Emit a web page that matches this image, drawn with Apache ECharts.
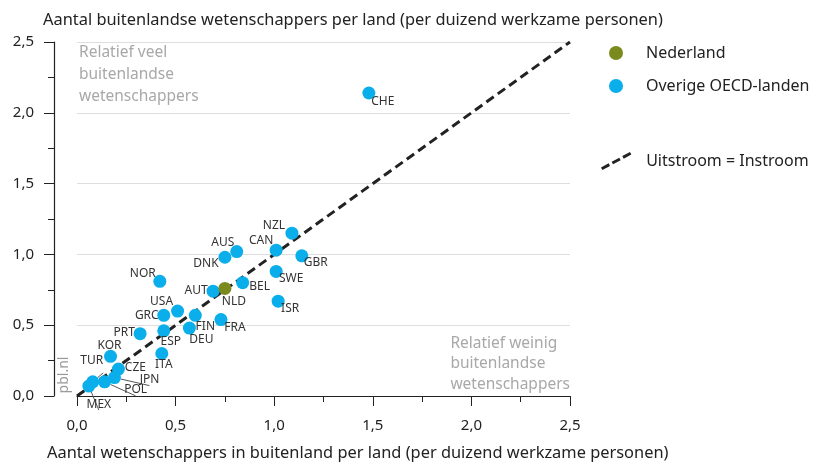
<!DOCTYPE html>
<html>
<head>
<meta charset="utf-8">
<script src="https://cdn.jsdelivr.net/npm/echarts@6/dist/echarts.min.js"></script>
<style>
  html, body { margin: 0; padding: 0; background: #fff; }
  #chart { width: 814px; height: 463px; }
</style>
</head>
<body>
<div id="chart"></div>
<script>
// data
const countries = ['CHE', 'NZL', 'CAN', 'GBR', 'AUS', 'DNK', 'SWE', 'NOR', 'BEL', 'NLD', 'AUT', 'ISR', 'USA',
  'FIN', 'GRC', 'FRA', 'DEU', 'ESP', 'PRT', 'KOR', 'ITA', 'CZE', 'JPN', 'POL', 'TUR', 'MEX'];
// x: wetenschappers in buitenland (uitstroom)
const outflow = [1.48, 1.09, 1.01, 1.14, 0.81, 0.75, 1.01, 0.42, 0.84, 0.75, 0.69, 1.02, 0.51,
  0.60, 0.44, 0.73, 0.57, 0.44, 0.32, 0.17, 0.43, 0.21, 0.19, 0.14, 0.08, 0.06];
// y: buitenlandse wetenschappers (instroom)
const inflow = [2.14, 1.15, 1.03, 0.99, 1.02, 0.98, 0.88, 0.81, 0.80, 0.76, 0.74, 0.67, 0.60,
  0.57, 0.57, 0.54, 0.48, 0.46, 0.44, 0.28, 0.30, 0.19, 0.13, 0.10, 0.10, 0.07];
const parity = [0, 2.5];
const highlight = 'NLD';

// label placement (offset from dot centre)
const labelOffset = {
  CHE: [14, 9], NZL: [-18, -8], CAN: [-15, -10], GBR: [14, 7], AUS: [-14, -9], DNK: [-19, 6],
  SWE: [15, 7], NOR: [-17, -8], BEL: [17, 4], NLD: [9, 13], AUT: [-17, -1], ISR: [12, 7],
  USA: [-16, -9], FIN: [10, 11], GRC: [-17, 0], FRA: [14, 8], DEU: [12, 12], ESP: [7, 11],
  PRT: [-16, -1], KOR: [-1, -11], ITA: [2, 11], CZE: [17, -2], JPN: [35, 2], POL: [31, 8],
  TUR: [-1, -21], MEX: [10, 18]
};
const withLeader = ['JPN', 'POL', 'TUR', 'MEX'];

const font = 'Noto Sans';
const dashIcon = 'path://M0.29,15.18L8.23,10.94L9.65,13.58L1.71,17.82Z' +
  'M11.32,9.3L19.26,5.06L20.68,7.7L12.74,11.94Z' +
  'M22.35,3.42L30.29,-0.82L31.71,1.82L23.77,6.06Z';

function points(keep) {
  let out = [];
  countries.forEach((c, i) => {
    if (!keep(c)) return;
    out.push({
      value: [outflow[i], inflow[i]],
      name: c,
      label: { offset: labelOffset[c] },
      labelLine: { show: withLeader.indexOf(c) >= 0 }
    });
  });
  return out;
}

const fmt = v => v.toFixed(1).replace('.', ',');

let chart = echarts.init(document.getElementById('chart'));
let option = {
  animation: false,
  textStyle: { fontFamily: font },
  title: [
    {
      text: 'Aantal buitenlandse wetenschappers per land (per duizend werkzame personen)',
      left: 38, top: 7,
      textStyle: { fontSize: 16.4, fontWeight: 'normal', color: '#222', fontFamily: font }
    },
    {
      text: 'Aantal wetenschappers in buitenland per land (per duizend werkzame personen)',
      left: 42, top: 440,
      textStyle: { fontSize: 16.4, fontWeight: 'normal', color: '#222', fontFamily: font }
    }
  ],
  legend: [
    {
      orient: 'vertical', left: 604, top: 40,
      itemWidth: 50, itemHeight: 14, itemGap: 17,
      selectedMode: false,
      textStyle: { fontSize: 16, color: '#222', fontFamily: font },
      data: [{ name: 'Nederland', icon: 'circle' }, { name: 'Overige OECD-landen', icon: 'circle' }]
    },
    {
      left: 596, top: 147,
      itemWidth: 50, itemHeight: 18,
      selectedMode: false,
      textStyle: { fontSize: 16, color: '#222', fontFamily: font },
      data: [{ name: 'Uitstroom = Instroom', icon: dashIcon, itemStyle: { color: '#222', borderWidth: 0 } }]
    }
  ],
  grid: { left: 77, right: 244, top: 42, bottom: 67 },
  xAxis: {
    type: 'value', min: 0, max: 2.5, interval: 0.5,
    axisLine: { show: true, onZero: false, lineStyle: { color: '#222', width: 1.2 } },
    axisTick: { show: true, length: 10, lineStyle: { color: '#222' } },
    minorTick: { show: true, splitNumber: 2, length: 6, lineStyle: { color: '#222' } },
    axisLabel: { margin: 22, fontSize: 15, color: '#222', formatter: fmt },
    splitLine: { show: false }
  },
  yAxis: {
    type: 'value', min: 0, max: 2.5, interval: 0.5, offset: 23,
    axisLine: { show: true, onZero: false, lineStyle: { color: '#222', width: 1.2 } },
    axisTick: { show: true, length: 10, lineStyle: { color: '#222' } },
    minorTick: { show: true, splitNumber: 2, length: 6, lineStyle: { color: '#222' } },
    axisLabel: { margin: 20, fontSize: 15, color: '#222', formatter: fmt },
    splitLine: { show: true, lineStyle: { color: '#dedede' } }
  },
  graphic: [
    {
      type: 'text', left: 79, top: 42, silent: true,
      style: { text: 'Relatief veel\nbuitenlandse\nwetenschappers', fill: '#a8a8a8', font: '15.5px "Noto Sans"', lineHeight: 22 }
    },
    {
      type: 'text', right: 244, top: 333, silent: true,
      style: { text: 'Relatief weinig\nbuitenlandse\nwetenschappers', fill: '#a8a8a8', font: '15.5px "Noto Sans"', lineHeight: 20.5, align: 'right' }
    },
    {
      type: 'text', x: 64, y: 375, rotation: Math.PI / 2, silent: true,
      style: { text: 'pbl.nl', fill: '#999', font: '14px "Noto Sans"', align: 'center', verticalAlign: 'middle' }
    }
  ],
  series: [
    {
      name: 'Uitstroom = Instroom',
      type: 'line',
      z: 2,
      symbol: 'none',
      silent: true,
      color: '#222',
      lineStyle: { color: '#222', width: 3, type: [9, 5] },
      data: parity.map(v => [v, v])
    },
    {
      name: 'Overige OECD-landen',
      type: 'scatter',
      z: 3,
      symbolSize: 13,
      itemStyle: { color: '#0aaeea', opacity: 1 },
      label: { show: true, position: 'inside', formatter: '{b}', fontSize: 12, color: '#333', fontFamily: font },
      labelLine: { lineStyle: { color: '#555', width: 1 } },
      data: points(c => c !== highlight)
    },
    {
      name: 'Nederland',
      type: 'scatter',
      z: 4,
      symbolSize: 13,
      itemStyle: { color: '#7b8a1d', opacity: 1 },
      label: { show: true, position: 'inside', formatter: '{b}', fontSize: 12, color: '#333', fontFamily: font },
      data: points(c => c === highlight)
    }
  ]
};
chart.setOption(option);
</script>
</body>
</html>
